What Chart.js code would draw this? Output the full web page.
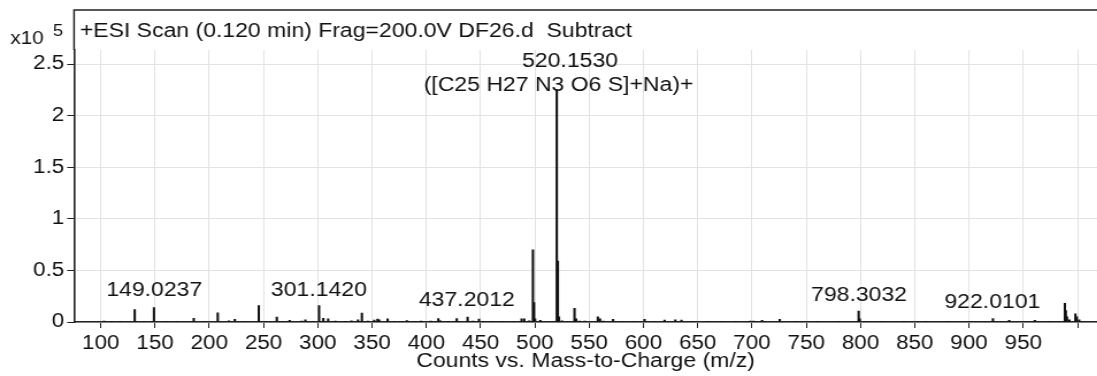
<!DOCTYPE html>
<html>
<head>
<meta charset="utf-8">
<script src="https://cdn.jsdelivr.net/npm/chart.js@4/dist/chart.umd.min.js"></script>
<style>
    html, body { margin: 0; padding: 0; background: #fff; overflow: hidden; }
    /* the original export is stretched sideways, so draw narrow and widen */
    #wrap { width: 954px; height: 376px; position: relative; transform: scaleX(1.15); transform-origin: 0 0; }
</style>
</head>
<body>
<div id="wrap"><canvas id="spectrum"></canvas></div>
<script>
// peak list (counts in units of 10^5)
const peakMz = [
    103, 110, 118, 131.3, 140, 149.02, 160, 170, 185.7, 195,
    207.8, 218, 223.5, 233, 245.6, 251, 262.2, 268, 274, 285,
    288.5, 295, 301.14, 305, 309.5, 316, 325, 331, 337, 340.6,
    346, 352, 355, 356.5, 364.3, 370, 376, 382, 388, 395,
    404, 411, 413, 420, 428, 438, 443, 448.5, 452, 460,
    470, 480, 487.7, 490.2, 494.8, 498.17, 499.17, 500.2, 505, 520.15,
    521.16, 522.2, 525, 536.5, 538, 541, 546, 558, 560, 563,
    572, 580, 590, 601, 610, 619.5, 629.4, 635, 645, 660,
    672, 685, 698.5, 701.6, 709.3, 725.6, 740, 760, 780, 798.3,
    799.3, 805, 820, 840, 860, 880, 900, 922.01, 937, 960.6,
    975, 988.3, 989.2, 990.3, 992.5, 998, 999.3, 1001.5
];
const peakCounts = [
    0.008, 0.004, 0.004, 0.12, 0.005, 0.14, 0.004, 0.004, 0.036, 0.005,
    0.09, 0.012, 0.026, 0.005, 0.158, 0.006, 0.048, 0.006, 0.015, 0.01,
    0.02, 0.006, 0.158, 0.035, 0.03, 0.01, 0.006, 0.012, 0.02, 0.087,
    0.008, 0.018, 0.028, 0.02, 0.03, 0.006, 0.006, 0.013, 0.005, 0.008,
    0.008, 0.032, 0.012, 0.006, 0.032, 0.048, 0.008, 0.028, 0.006, 0.004,
    0.004, 0.005, 0.03, 0.03, 0.012, 0.70, 0.187, 0.03, 0.015, 2.25,
    0.59, 0.05, 0.012, 0.133, 0.03, 0.01, 0.008, 0.05, 0.03, 0.01,
    0.025, 0.005, 0.005, 0.025, 0.005, 0.018, 0.02, 0.018, 0.004, 0.004,
    0.004, 0.004, 0.01, 0.01, 0.015, 0.026, 0.004, 0.004, 0.004, 0.107,
    0.03, 0.006, 0.004, 0.004, 0.004, 0.004, 0.005, 0.032, 0.015, 0.015,
    0.004, 0.18, 0.11, 0.05, 0.02, 0.08, 0.05, 0.02
];

const xTickValues = [100, 150, 200, 250, 300, 350, 400, 450, 500, 550, 600, 650, 700, 750, 800, 850, 900, 950, 1000];
const yTickValues = [0, 0.5, 1, 1.5, 2, 2.5];

const peakLabels = ['149.0237', '301.1420', '437.2012', '520.1530', '([C25 H27 N3 O6 S]+Na)+', '798.3032', '922.0101'];
const peakLabelMz = [149.3, 301.0, 437.3, 532.4, 521.8, 798.7, 921.5];
const peakLabelLevel = [0.31, 0.31, 0.205, 2.52, 2.29, 0.255, 0.186];

const scanTitle = '+ESI Scan (0.120 min) Frag=200.0V DF26.d  Subtract';
const axisTitle = 'Counts vs. Mass-to-Charge (m/z)';

const FONT = "'Liberation Sans', Arial, sans-serif";
const INK = '#111';

Chart.defaults.font.family = FONT;
Chart.defaults.font.size = 20;
Chart.defaults.color = INK;

// box above the plot with the scan title and the x10^5 multiplier
const framePlugin = {
    id: 'frame',
    afterDraw(chart) {
        const ctx = chart.ctx;
        const area = chart.chartArea;
        ctx.save();
        ctx.strokeStyle = '#222';
        ctx.lineWidth = 1.5;
        ctx.beginPath();
        ctx.moveTo(area.left, area.top);
        ctx.lineTo(area.left, 10);
        ctx.lineTo(area.right, 10);
        ctx.stroke();

        ctx.fillStyle = INK;
        ctx.textBaseline = 'alphabetic';
        ctx.textAlign = 'left';
        ctx.font = '20px ' + FONT;
        ctx.fillText(scanTitle, area.left + 5, 37);
        ctx.font = '18px ' + FONT;
        ctx.fillText('x10', 9, 44);
        ctx.font = '16px ' + FONT;
        ctx.fillText('5', 46, 36);
        ctx.restore();
    }
};

const labelPlugin = {
    id: 'peakLabels',
    afterDatasetsDraw(chart) {
        const ctx = chart.ctx;
        const xs = chart.scales.x, ys = chart.scales.y;
        ctx.save();
        ctx.fillStyle = INK;
        ctx.font = '20px ' + FONT;
        ctx.textAlign = 'center';
        ctx.textBaseline = 'middle';
        peakLabels.forEach(function(t, i) {
            ctx.fillText(t, xs.getPixelForValue(peakLabelMz[i]), ys.getPixelForValue(peakLabelLevel[i]));
        });
        ctx.restore();
    }
};

const points = peakMz.map((m, i) => ({x: m, y: peakCounts[i]}));

new Chart(document.getElementById('spectrum'), {
    type: 'bar',
    data: {
        datasets: [{
            data: points,
            backgroundColor: INK,
            borderWidth: 0,
            barThickness: 1.4
        }]
    },
    options: {
        responsive: true,
        maintainAspectRatio: false,
        animation: false,
        layout: { padding: { top: 50, right: 0, left: 0, bottom: 0 } },
        plugins: {
            legend: { display: false },
            tooltip: { enabled: false }
        },
        scales: {
            x: {
                type: 'linear',
                offset: false,
                min: 75.4,
                max: 1018,
                afterBuildTicks: s => { s.ticks = xTickValues.map(v => ({value: v})); },
                afterFit: s => { s.height = 54; s.paddingLeft = 0; s.paddingRight = 0; },
                ticks: {
                    autoSkip: false,
                    maxRotation: 0,
                    padding: 4,
                    color: INK,
                    font: { size: 19.5 },
                    callback: v => (v >= 1000 ? '' : String(v))
                },
                grid: { offset: false, color: '#e2e2e2', tickColor: '#222', tickLength: 6, lineWidth: 1 },
                border: { display: true, color: '#222', width: 1.6 },
                title: {
                    display: true,
                    text: axisTitle,
                    color: INK,
                    font: { size: 20 },
                    padding: { top: 0, bottom: 3 }
                }
            },
            y: {
                min: 0,
                max: 2.636,
                afterBuildTicks: s => { s.ticks = yTickValues.map(v => ({value: v})); },
                afterFit: s => { s.width = 64.4; },
                ticks: {
                    padding: 2.5,
                    color: INK,
                    font: { size: 19.5 },
                    callback: v => String(v)
                },
                grid: { color: '#e2e2e2', tickColor: '#222', tickLength: 6, lineWidth: 1 },
                border: { display: true, color: '#222', width: 1.6 }
            }
        }
    },
    plugins: [framePlugin, labelPlugin]
});
</script>
</body>
</html>
